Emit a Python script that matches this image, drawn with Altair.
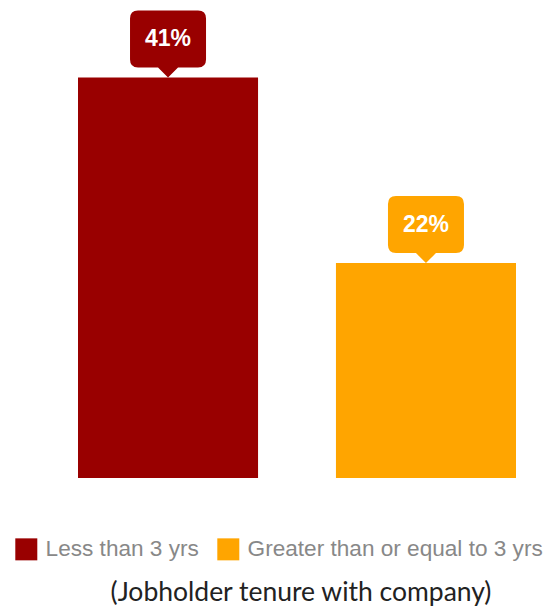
import altair as alt
import pandas as pd

categories = ["Less than 3 yrs", "Greater than or equal to 3 yrs"]
values = [41, 22]
labels = ["41%", "22%"]
colors = ["#990000", "#FFA500"]

df = pd.DataFrame({"cat": categories, "value": values, "label": labels})

# speech-bubble callout shape, tip at the anchor point
callout = ("M0,0 L0.263,-0.263 L0.79,-0.263 Q1,-0.263 1,-0.473 L1,-1.553 "
           "Q1,-1.763 0.79,-1.763 L-0.79,-1.763 Q-1,-1.763 -1,-1.553 "
           "L-1,-0.473 Q-1,-0.263 -0.79,-0.263 L-0.263,-0.263 Z")

x = alt.X("cat:N", sort=categories, axis=None,
          scale=alt.Scale(paddingInner=0.302, paddingOuter=0))
y = alt.Y("value:Q", axis=None, scale=alt.Scale(domain=[0, 48], nice=False, zero=True))
color_scale = alt.Scale(domain=categories, range=colors)

bars = alt.Chart(df).mark_bar().encode(
    x=x, y=y,
    color=alt.Color("cat:N", scale=color_scale, sort=categories,
                    legend=alt.Legend(orient="none", legendX=-63, legendY=529,
                                      direction="horizontal", title=None,
                                      symbolType="square", symbolSize=484,
                                      symbolStrokeWidth=0, labelFontSize=22.6,
                                      labelFont="Liberation Sans", labelColor="#888888",
                                      labelOffset=8, columnPadding=18, padding=0,
                                      labelLimit=0)),
)

bubbles = alt.Chart(df).mark_point(shape=callout, filled=True, size=5776, opacity=1,
                                    strokeWidth=0).encode(
    x=x, y=y, color=alt.Color("cat:N", scale=color_scale, legend=None))

texts = alt.Chart(df).mark_text(dy=-38, fontSize=23, fontWeight="bold",
                                font="Liberation Sans", color="white",
                                baseline="middle", align="center").encode(
    x=x, y=y, text="label:N")

chart = alt.layer(bars, bubbles, texts).properties(
    width=438, height=469,
    padding={"left": 70, "top": 1, "right": 30, "bottom": 128},
    autosize=alt.AutoSizeParams(type="none"),
    title=alt.TitleParams("(Jobholder tenure with company)", orient="bottom",
                          font="Lato", fontSize=26.5, fontWeight="normal",
                          color="#222222", anchor="middle", dx=4, offset=19),
).configure_view(stroke=None)

chart.save("out.html", embed_options={"renderer": "svg", "actions": False})
